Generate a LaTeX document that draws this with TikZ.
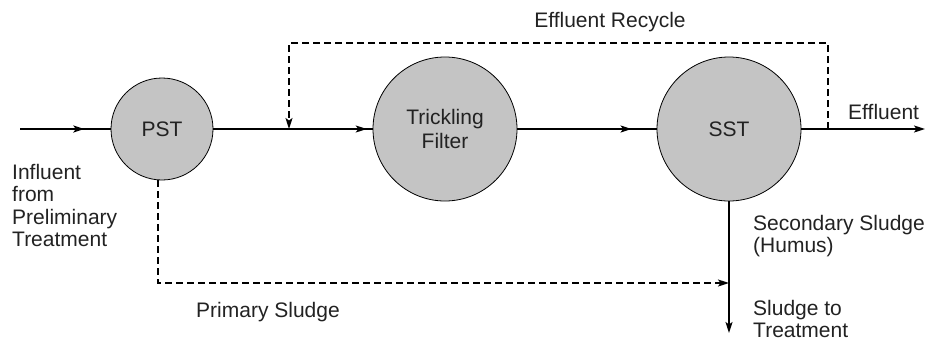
\documentclass[tikz,border=0pt]{standalone}
\usepackage{fontspec}
\setmainfont{Liberation Sans}
\usetikzlibrary{arrows.meta,decorations.markings,calc}
\definecolor{tankfill}{HTML}{C4C4C4}
\definecolor{inktext}{HTML}{222222}
\tikzset{
  tank/.style={circle,draw=black,line width=0.8pt,fill=tankfill,inner sep=0pt,
    minimum size=#1,font=\fontsize{21}{24.5}\selectfont,text=inktext,align=center},
  lbl/.style={font=\fontsize{21}{22.6}\selectfont,text=inktext,inner sep=0pt,anchor=base west},
  flow/.style={line width=1.6pt},
  rec/.style={line width=1.6pt,dash pattern=on 7pt off 4pt},
  tip/.style={-{Stealth[length=11pt,width=7pt,inset=2.5pt]}},
  midtip/.style={postaction={decorate},decoration={markings,
    mark=at position #1 with {\arrow{Stealth[length=11pt,width=7pt,inset=2.5pt]}}}}
}
% stacked label lines, aligned on the first baseline
\newcommand{\stackl}[1]{\begin{tabular}[t]{@{}l@{}}#1\end{tabular}}
\begin{document}
\begin{tikzpicture}[x=1pt,y=-1pt]
\useasboundingbox (0,0) rectangle (925,343);
% treatment units
\node[tank=102pt] (pst) at (162,129) {PST};
\node[tank=144pt] (tf) at (445,129) {Trickling\\Filter};
\node[tank=144pt] (sst) at (729,129) {SST};
% junction points
\coordinate (in) at (20,129);
\coordinate (out) at (925,129);
\coordinate (rj) at (289,129);
\coordinate (rs) at (828,129);
\coordinate (sj) at (729,283);
\coordinate (send) at (729,333);
% main flow line
\draw[flow,midtip=0.71] (in) -- (pst.west);
\draw[flow] (pst.east) -- (rj);
\draw[flow,midtip=0.93] (rj) -- (tf.west);
\draw[flow,midtip=0.82] (tf.east) -- (sst.west);
\draw[flow,tip] (sst.east) -- (out);
% effluent recycle
\draw[rec,tip] (rs) -- (828,43) -- (289,43) -- (rj);
% sludge lines
\draw[flow] (sst.south) -- (sj);
\draw[flow,tip] (sj) -- (send);
\draw[rec,tip] ($(pst.south)+(-4,0)$) -- (158,283) -- (sj);
% labels
\node[lbl,anchor=base] (lrec) at (610,27) {Effluent Recycle};
\node[lbl] (leff) at (848,119) {Effluent};
\node[lbl] (lin) at (12,179) {\stackl{Influent\\from\\Preliminary\\Treatment}};
\node[lbl] (lsec) at (753,230) {\stackl{Secondary Sludge\\(Humus)}};
\node[lbl] (lst) at (753,315) {\stackl{Sludge to\\Treatment}};
\node[lbl] (lps) at (196,317) {Primary Sludge};
\end{tikzpicture}
\end{document}
